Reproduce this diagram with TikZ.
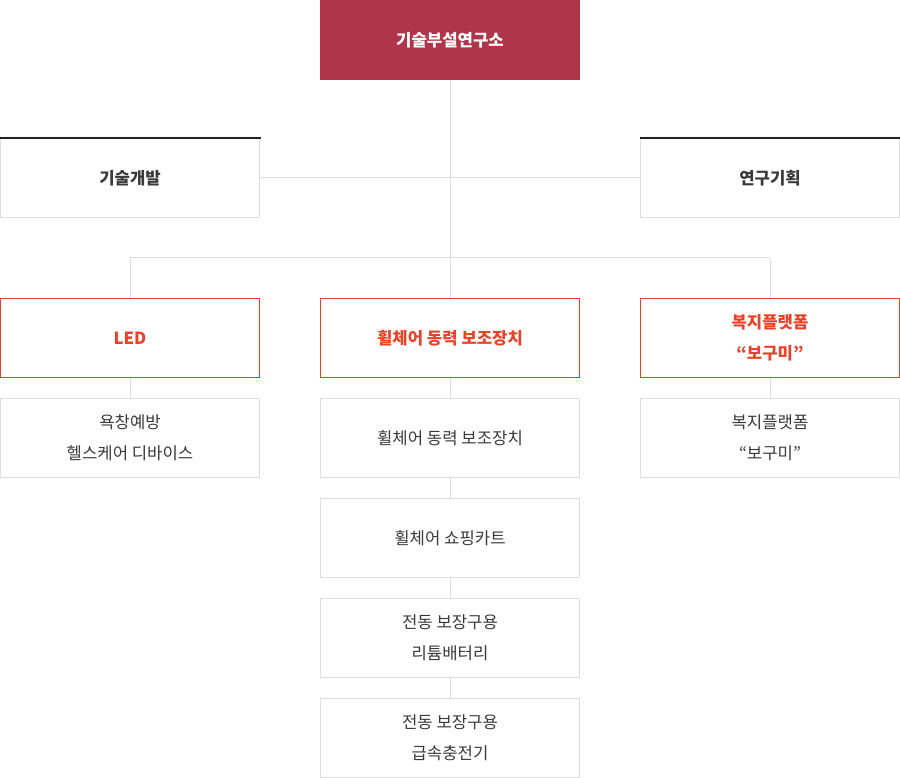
\documentclass[tikz,border=0pt]{standalone}
\usepackage{fontspec}
\setmainfont{Noto Sans CJK KR}
\definecolor{topred}{HTML}{AF364A}
\definecolor{accent}{HTML}{E8432A}
\definecolor{boxgray}{HTML}{DDDDDD}
\definecolor{txt}{HTML}{3A3A3A}
\definecolor{darkline}{HTML}{222222}
\tikzset{
  base/.style={rectangle, minimum width=259pt, minimum height=79pt, inner sep=0pt, align=center, line width=1pt, font=\fontsize{16.7}{31}\selectfont},
  topbox/.style={base, fill=topred, draw=topred, text=white, font=\fontsize{16.7}{31}\selectfont\bfseries},
  midbox/.style={base, draw=boxgray, text=txt, font=\fontsize{16.7}{31}\selectfont\bfseries},
  catbox/.style={base, draw=accent, text=accent, font=\fontsize{16.7}{31}\selectfont\bfseries},
  subbox/.style={base, draw=boxgray, text=txt},
  conn/.style={draw=boxgray, line width=1pt},
}
\begin{document}
\begin{tikzpicture}[x=1pt,y=-1pt]
\useasboundingbox (0,0) rectangle (900,778);
\coordinate (hub) at (450,258);
\coordinate (hl) at (130,258);
\coordinate (hr) at (770,258);
\node[topbox] (top) at (450,40) {\raisebox{-1pt}{기술부설연구소}};
\node[midbox] (dev) at (130,178) {\raisebox{-1pt}{기술개발}};
\node[midbox] (plan) at (770,178) {\raisebox{-1pt}{연구기획}};
\draw[darkline, line width=2pt] ([xshift=-0.5pt,yshift=-0.5pt]dev.north west) -- ([xshift=0.5pt,yshift=-0.5pt]dev.north east);
\draw[darkline, line width=2pt] ([xshift=-0.5pt,yshift=-0.5pt]plan.north west) -- ([xshift=0.5pt,yshift=-0.5pt]plan.north east);
\node[catbox] (led) at (130,338) {\raisebox{-1.5pt}{LED}};
\node[catbox] (wc) at (450,338) {\raisebox{-1pt}{휠체어 동력 보조장치}};
\node[catbox] (bogumi) at (770,338) {복지플랫폼\\“보구미”};
\node[subbox] (s1) at (130,438) {욕창예방\\헬스케어 디바이스};
\node[subbox] (s2) at (450,438) {\raisebox{-1pt}{휠체어 동력 보조장치}};
\node[subbox] (s3) at (450,538) {\raisebox{-1pt}{휠체어 쇼핑카트}};
\node[subbox] (s4) at (450,638) {전동 보장구용\\리튬배터리};
\node[subbox] (s5) at (450,738) {전동 보장구용\\급속충전기};
\node[subbox] (s6) at (770,438) {복지플랫폼\\“보구미”};
\draw[conn] (top.south) -- (hub);
\draw[conn] (dev.east) -- (plan.west);
\draw[conn] (hl) -- (hr);
\draw[conn] (hl) -- (led.north);
\draw[conn] (hub) -- (wc.north);
\draw[conn] (hr) -- (bogumi.north);
\draw[conn] (led.south) -- (s1.north);
\draw[conn] (wc.south) -- (s2.north);
\draw[conn] (s2.south) -- (s3.north);
\draw[conn] (s3.south) -- (s4.north);
\draw[conn] (s4.south) -- (s5.north);
\draw[conn] (bogumi.south) -- (s6.north);
\end{tikzpicture}
\end{document}
